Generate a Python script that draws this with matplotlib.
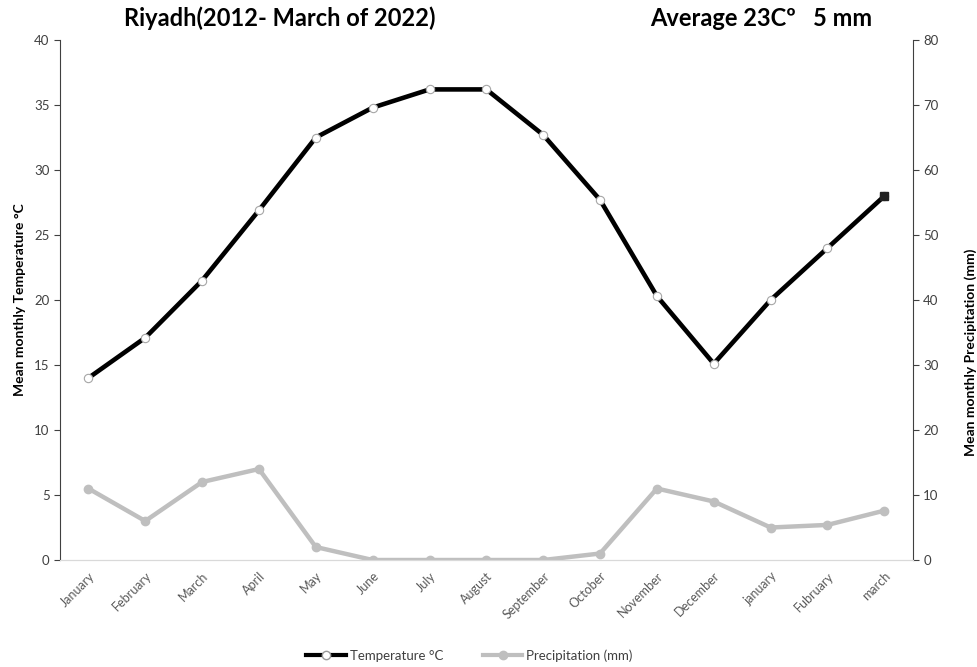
import matplotlib.pyplot as plt
from matplotlib.lines import Line2D

plt.rcParams['font.family'] = ['Lato', 'DejaVu Sans']

months = ['January', 'February', 'March', 'April', 'May', 'June', 'July', 'August',
          'September', 'October', 'November', 'December', 'january', 'Fubruary', 'march']
temperature = [14.0, 17.1, 21.5, 26.9, 32.5, 34.8, 36.2, 36.2, 32.7, 27.7, 20.3, 15.1, 20.0, 24.0, 28.0]
precipitation = [11.0, 6.0, 12.0, 14.0, 2.0, 0.0, 0.0, 0.0, 0.0, 1.0, 11.0, 9.0, 5.0, 5.4, 7.6]

fig = plt.figure(figsize=(9.78, 6.67), dpi=100)
ax = fig.add_axes([0.0613, 0.1604, 0.872, 0.7796])
ax2 = ax.twinx()

x = list(range(len(months)))

# precipitation on the secondary axis, drawn behind the temperature line
ax2.plot(x, precipitation, color='#bfbfbf', lw=3.2, marker='o', ms=6,
         mfc='#bfbfbf', mec='#bfbfbf', zorder=2)
ax2.set_ylim(0, 80)
ax2.set_yticks(range(0, 81, 10))

ax.set_zorder(ax2.get_zorder() + 1)
ax.patch.set_visible(False)
ax.plot(x, temperature, color='black', lw=3.3, marker='o', ms=6,
        mfc='white', mec='#a6a6a6', mew=0.8, zorder=3)
ax.plot(x[-1], temperature[-1], marker='s', ms=5.5, color='#222222', zorder=4)
ax.set_ylim(0, 40)
ax.set_yticks(range(0, 41, 5))
ax.set_xlim(-0.5, len(months) - 0.5)
ax.set_xticks(x)
ax.set_xticklabels(months, rotation=45, ha='right', rotation_mode='anchor',
                   fontsize=9, color='#595959')

for a in (ax, ax2):
    a.spines['top'].set_visible(False)
    a.spines['bottom'].set_color('#d9d9d9')
    a.spines['left'].set_color('#404040')
    a.spines['right'].set_color('#404040')
    a.tick_params(axis='y', labelsize=9.5, length=4, color='#404040', labelcolor='#404040')
ax.tick_params(axis='x', length=0, pad=7)
ax2.spines['left'].set_visible(False)
ax.spines['right'].set_visible(False)

ax.set_ylabel('Mean monthly Temperature °C', fontsize=10, fontweight='bold')
ax.yaxis.set_label_coords(-0.04, 0.5)
ax2.set_ylabel('Mean monthly Precipitation (mm)', fontsize=10, fontweight='bold')
ax2.yaxis.set_label_coords(1.06, 0.4)

fig.text(0.286, 0.972, 'Riyadh(2012- March of 2022)', fontsize=17, fontweight='bold',
         ha='center', va='center')
fig.text(0.778, 0.972, 'Average 23Cº   5 mm', fontsize=17, fontweight='bold',
         ha='center', va='center')

handles = [
    Line2D([], [], color='black', lw=3, marker='o', ms=6, mfc='white', mec='#999999'),
    Line2D([], [], color='#bfbfbf', lw=3, marker='o', ms=6, mfc='#bfbfbf', mec='#bfbfbf'),
]
fig.legend(handles, ['Temperature °C', 'Precipitation (mm)'], loc='center',
           bbox_to_anchor=(0.48, 0.017), ncol=2, frameon=False, fontsize=9.5,
           handlelength=3, columnspacing=3, handletextpad=0.3,
           labelcolor='#404040')

fig.savefig('out.png', dpi=100)
